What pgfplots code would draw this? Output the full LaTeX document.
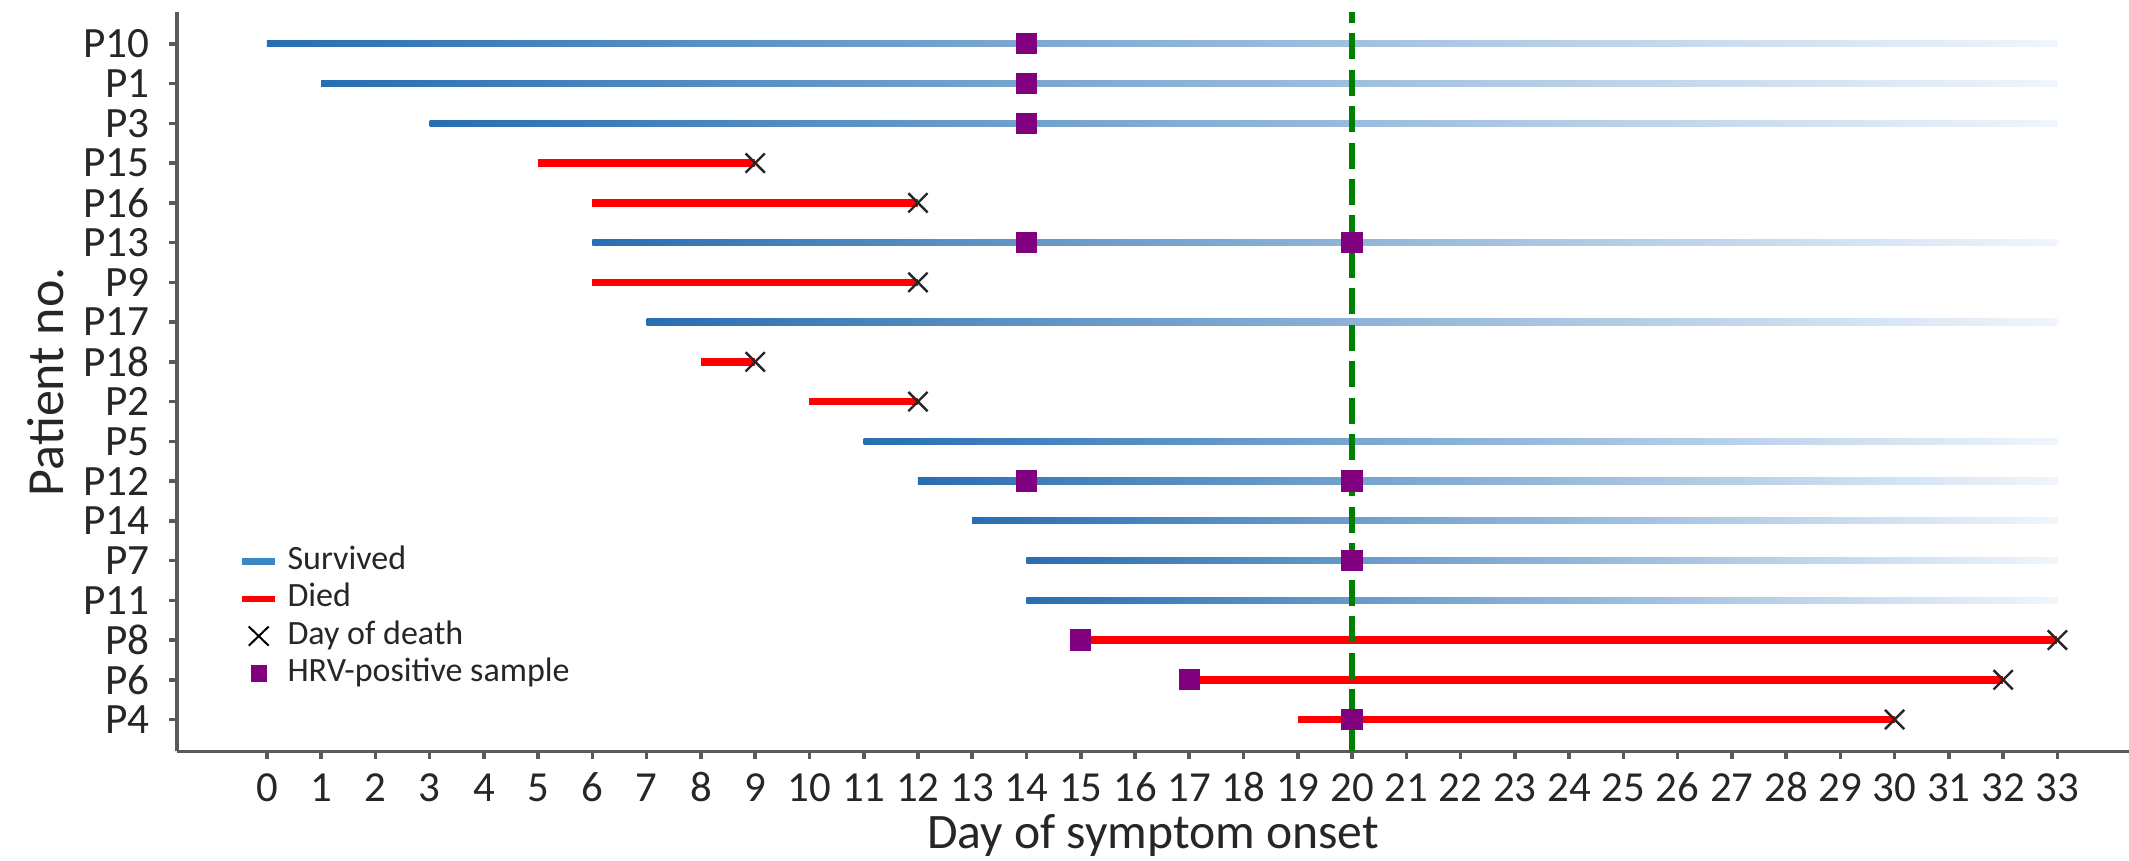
\documentclass[border=0pt]{standalone}
\usepackage{fontspec}
\setmainfont{Carlito}
\usepackage{pgfplots}
\pgfplotsset{compat=1.18}
\definecolor{bstart}{RGB}{40,110,178}
\definecolor{bend}{RGB}{240,246,252}
\definecolor{blegend}{RGB}{58,135,200}
\definecolor{hrv}{RGB}{128,0,128}
\definecolor{vline}{RGB}{0,128,0}
\definecolor{spine}{RGB}{90,90,90}
\definecolor{txt}{RGB}{38,38,38}
\begin{document}
\begin{tikzpicture}
\begin{axis}[
  name=ax,
  scale only axis,
  width=487.75bp, height=184.75bp,
  xmin=-1.655, xmax=34.32, ymin=-0.8, ymax=17.8,
  axis x line*=bottom, axis y line*=left,
  axis line style={spine, line width=0.9bp},
  tick align=outside, major tick length=2bp,
  tick style={spine, line width=0.9bp},
  xtick={0,...,33}, ytick={0,...,17},
  yticklabels={P4,P6,P8,P11,P7,P14,P12,P5,P2,P18,P17,P9,P13,P16,P15,P3,P1,P10},
  /pgf/number format/assume math mode=true,
  xticklabel style={font=\fontsize{10.7bp}{12bp}\selectfont, text=txt, anchor=north, inner sep=0pt, text height=7.2bp, text depth=0pt, yshift=-3.2bp},
  yticklabel style={font=\fontsize{10.8bp}{12bp}\selectfont, text=txt, anchor=east, inner sep=0pt, xshift=-4.75bp},
  xlabel={Day of symptom onset},
  xlabel style={at={(axis description cs:0.5,-0.1137)}, anchor=center, font=\fontsize{12.4bp}{14bp}\selectfont, text=txt},
  ylabel={Patient no.},
  ylabel style={at={(axis description cs:-0.06715,0.5)}, anchor=center, font=\fontsize{13bp}{15bp}\selectfont, text=txt},
  legend cell align=left,
  legend style={draw=none, fill=none, at={(axis description cs:0,0)}, anchor=north west,
    xshift=15.5bp, yshift=51.4bp, inner sep=0pt, outer sep=0pt,
    font=\fontsize{8.5bp}{9.3bp}\selectfont, text=txt,
    nodes={inner sep=0pt, text height=6bp, text depth=2bp},
    row sep=1.3bp, column sep=2.25bp},
]
\addlegendimage{legend image code/.code={\draw[blegend, line width=1.6bp] (0bp,0bp) -- (8.25bp,0bp);}}
\addlegendentry{Survived}
\addlegendimage{legend image code/.code={\draw[red, line width=1.6bp] (0bp,0bp) -- (8.25bp,0bp);}}
\addlegendentry{Died}
\addlegendimage{legend image code/.code={\draw[black, line width=0.5bp] (1.6bp,-2.4bp) -- (6.6bp,2.4bp) (1.6bp,2.4bp) -- (6.6bp,-2.4bp);}}
\addlegendentry{Day of death}
\addlegendimage{legend image code/.code={\fill[hrv] (2.3bp,-1.9bp) rectangle (5.9bp,1.9bp);}}
\addlegendentry{HRV-positive sample}

% Survived: onset day -> end of follow-up (33), fading
\addplot[forget plot, draw=none, mark=none, left color=bstart, right color=bend] coordinates {(0,16.92) (33,16.92) (33,17.08) (0,17.08)};  % P10
\addplot[forget plot, draw=none, mark=none, left color=bstart, right color=bend] coordinates {(1,15.92) (33,15.92) (33,16.08) (1,16.08)};  % P1
\addplot[forget plot, draw=none, mark=none, left color=bstart, right color=bend] coordinates {(3,14.92) (33,14.92) (33,15.08) (3,15.08)};  % P3
\addplot[forget plot, draw=none, mark=none, left color=bstart, right color=bend] coordinates {(6,11.92) (33,11.92) (33,12.08) (6,12.08)};  % P13
\addplot[forget plot, draw=none, mark=none, left color=bstart, right color=bend] coordinates {(7,9.92) (33,9.92) (33,10.08) (7,10.08)};  % P17
\addplot[forget plot, draw=none, mark=none, left color=bstart, right color=bend] coordinates {(11,6.92) (33,6.92) (33,7.08) (11,7.08)};  % P5
\addplot[forget plot, draw=none, mark=none, left color=bstart, right color=bend] coordinates {(12,5.92) (33,5.92) (33,6.08) (12,6.08)};  % P12
\addplot[forget plot, draw=none, mark=none, left color=bstart, right color=bend] coordinates {(13,4.92) (33,4.92) (33,5.08) (13,5.08)};  % P14
\addplot[forget plot, draw=none, mark=none, left color=bstart, right color=bend] coordinates {(14,3.92) (33,3.92) (33,4.08) (14,4.08)};  % P7
\addplot[forget plot, draw=none, mark=none, left color=bstart, right color=bend] coordinates {(14,2.92) (33,2.92) (33,3.08) (14,3.08)};  % P11

% Died: onset day -> day of death
\addplot[forget plot, red, line width=1.9bp, mark=none] coordinates {(5,14) (9,14)};    % P15
\addplot[forget plot, red, line width=1.9bp, mark=none] coordinates {(6,13) (12,13)};   % P16
\addplot[forget plot, red, line width=1.9bp, mark=none] coordinates {(6,11) (12,11)};   % P9
\addplot[forget plot, red, line width=1.9bp, mark=none] coordinates {(8,9) (9,9)};      % P18
\addplot[forget plot, red, line width=1.9bp, mark=none] coordinates {(10,8) (12,8)};    % P2
\addplot[forget plot, red, line width=1.9bp, mark=none] coordinates {(15,2) (33,2)};    % P8
\addplot[forget plot, red, line width=1.9bp, mark=none] coordinates {(17,1) (32,1)};    % P6
\addplot[forget plot, red, line width=1.9bp, mark=none] coordinates {(19,0) (30,0)};    % P4

% day 20 reference line
\addplot[forget plot, vline, line width=1.35bp, dash pattern=on 6.5bp off 2.6bp, mark=none] coordinates {(20,-0.8) (20,17.8)};

% day of death
\addplot[forget plot, only marks, mark=x, mark size=3.4bp, mark options={line width=0.6bp, draw=black!85}] coordinates {(9,14) (12,13) (12,11) (9,9) (12,8) (33,2) (32,1) (30,0)};
% HRV-positive samples
\addplot[forget plot, only marks, mark=square*, mark size=2.45bp, mark options={fill=hrv, draw=hrv}] coordinates {(14,17) (14,16) (14,15) (14,12) (20,12) (14,6) (20,6) (20,4) (15,2) (17,1) (20,0)};
\end{axis}
\pgfresetboundingbox
\path (ax.south west) ++(-44.25bp,-27.25bp) rectangle ([yshift=3bp]ax.north east);
\end{tikzpicture}
\end{document}
